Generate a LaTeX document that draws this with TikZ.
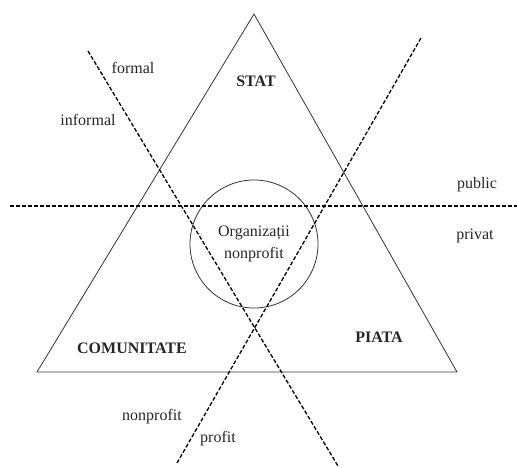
\documentclass[tikz,border=0pt]{standalone}
\usepackage{fontspec}
\setmainfont{Liberation Serif}
\begin{document}
\begin{tikzpicture}[x=1pt,y=-1pt,font=\fontsize{16}{22}\selectfont,line join=round,
	side/.style={black!80,line width=0.8pt},
	split/.style={black,line width=1.3pt,dash pattern=on 4pt off 2pt},
	word/.style={inner sep=0pt,black!85},
	sector/.style={inner sep=0pt,black!85,font=\fontsize{16}{22}\selectfont\bfseries}]
	\useasboundingbox (0,0) rectangle (517,467);
	\coordinate (top) at (254,14);
	\coordinate (bl) at (37,372);
	\coordinate (br) at (457,372);
	\draw[side] (top)--(bl)--(br)--cycle;
	\node[side,draw,circle,minimum size=128pt,inner sep=0pt,align=center,text=black!85] (org) at (254,244) {Organizații\\nonprofit};
	% axe
	\coordinate (h1) at (10,206);
	\coordinate (h2) at (517,206);
	\coordinate (f1) at (88,51);
	\coordinate (f2) at (338,466);
	\coordinate (p1) at (421,38);
	\coordinate (p2) at (177,463);
	\draw[split] (h1)--(h2);
	\draw[split] (f1)--(f2);
	\draw[split] (p1)--(p2);
	% etichete
	\node[sector] (stat) at (256,81) {STAT};
	\node[sector] (com) at (132,348) {COMUNITATE};
	\node[sector] (piata) at (379,337) {PIATA};
	\node[word] (formal) at (133,68) {formal};
	\node[word] (informal) at (88,120) {informal};
	\node[word] (public) at (477,185) {public};
	\node[word] (privat) at (475,236) {privat};
	\node[word] (nonprofit) at (152,417) {nonprofit};
	\node[word] (profit) at (218,439) {profit};
\end{tikzpicture}
\end{document}
